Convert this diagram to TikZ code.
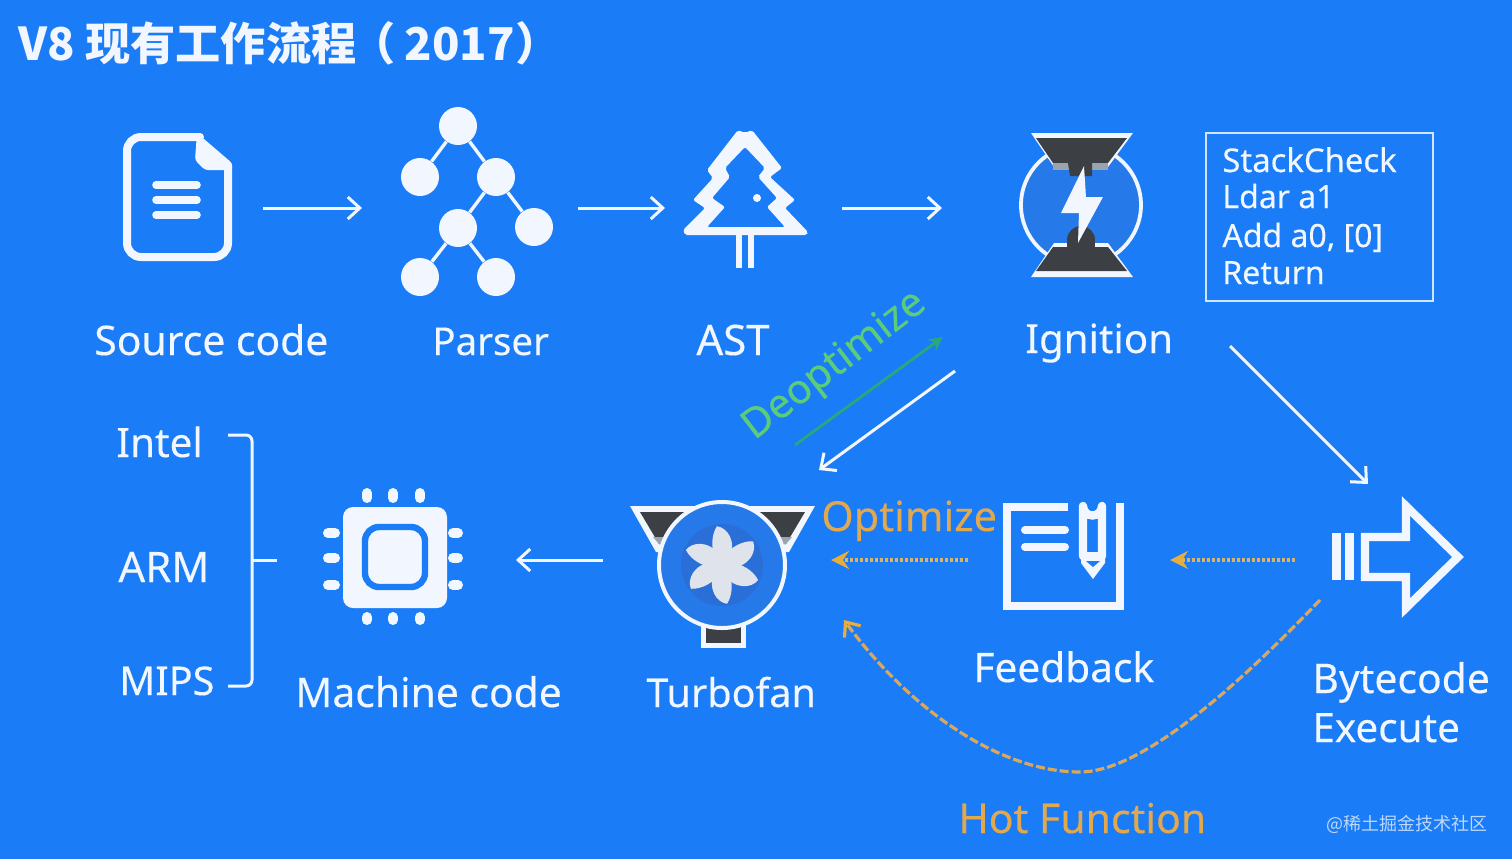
\documentclass[tikz,border=0pt]{standalone}
\usepackage{fontspec}
\setmainfont{Noto Sans}
\newfontfamily\cjk{Noto Sans CJK SC}
\newfontfamily\labfont[FakeBold=0.25]{Noto Sans}
\usetikzlibrary{arrows.meta}
\definecolor{bgblue}{HTML}{1A7CF6}
\definecolor{soft}{HTML}{F2F7FF}
\definecolor{darkhg}{HTML}{3C3F44}
\definecolor{greyhg}{HTML}{9AA4AE}
\definecolor{discblue}{HTML}{2A6FD8}
\definecolor{ringblue}{HTML}{2579E8}
\definecolor{orangelab}{HTML}{E2A84E}
\definecolor{goldarrow}{HTML}{D9B468}
\definecolor{goldhead}{HTML}{E5AE3E}
\definecolor{hotdash}{HTML}{D9A860}
\definecolor{greenlab}{HTML}{5CCB7C}
\definecolor{greenarrow}{HTML}{2BA77E}
\tikzset{
  labs/.style={anchor=base west,inner sep=0pt,text=soft,font=\labfont\fontsize{#1}{24}\selectfont},
  code/.style={anchor=base west,inner sep=0pt,text=soft,font=\labfont\fontsize{16}{19}\selectfont},
  flow/.style={draw=soft,line width=1.5pt,-{Straight Barb[length=6pt,width=11pt,line width=1.5pt]}},
  gold/.style={draw=goldarrow,line width=1.6pt,dash pattern=on 1.5pt off 1pt,-{Stealth[length=9pt,width=9pt,inset=3pt,color=goldhead]}},
  hot/.style={draw=hotdash,line width=1.6pt,dash pattern=on 4.5pt off 1.5pt,-{Straight Barb[length=6pt,width=10pt,line width=1.6pt,color=goldhead]}},
  icon/.style={draw=soft,line join=round,line cap=round},
  tn/.style={circle,fill=soft,minimum size=19pt,inner sep=0pt},
  te/.style={draw=soft,line width=1.7pt},
  pin/.style={soft,line width=5pt,line cap=round},
}
\begin{document}
\begin{tikzpicture}[x=0.5pt,y=-0.5pt]
\useasboundingbox (0,0) rectangle (1512,859);
\fill[bgblue] (0,0) rectangle (1512,859);

% title
\node[anchor=base west,inner sep=0pt,text=soft,font=\cjk\bfseries\fontsize{22.6}{26}\selectfont] (title) at (18,60) {V8 现有工作流程\kern-3pt（\kern4.5pt 2017\kern0.5pt）};

% source code icon
\draw[icon,line width=4pt,rounded corners=7pt] (200,137) -- (127,137) -- (127,257) -- (228,257) -- (228,165);
\fill[soft,rounded corners=1.5pt] (197,133) -- (232,163) -- (232,170) -- (205,170) -- (195,160) -- cycle;
\draw[icon,line width=3.8pt] (156,185) -- (197,185) (156,200) -- (197,200) (156,215) -- (197,215);

% parser tree
\node[tn] (t1) at (458,126) {};
\node[tn] (t2) at (420,177) {};
\node[tn] (t3) at (496,177) {};
\node[tn] (t4) at (458,228) {};
\node[tn] (t5) at (534,227) {};
\node[tn] (t6) at (420,277) {};
\node[tn] (t7) at (496,277) {};
\draw[te] (t1)--(t2) (t1)--(t3) (t3)--(t4) (t3)--(t5) (t4)--(t6) (t4)--(t7);

% AST tree
\fill[soft,even odd rule,rounded corners=1pt]
  (738,130) -- (745,133) -- (752,130) -- (782,168) -- (770,177) -- (795,200) -- (785,208) -- (808,232) -- (807,235)
  -- (685,235) -- (683,230) -- (705,208) -- (693,200) -- (713,178) -- (707,170) -- cycle
  (745,147) -- (765,168) -- (758,177) -- (777,198) -- (767,207) -- (785,227) -- (707,227) -- (725,207) -- (712,198) -- (730,177) -- (725,168) -- cycle;
\draw[icon,line width=3.2pt,line cap=butt] (739,235) -- (739,268) (751,235) -- (751,268);
\fill[soft] (757,198) circle (4);

% ignition
\draw[soft,fill=ringblue,line width=1.9pt] (1081,205) circle (60);
\fill[soft] (1031,133) -- (1133,133) -- (1108,167) -- (1054,167) -- cycle;
\fill[darkhg] (1036,138) -- (1127,138) -- (1108,163) -- (1053,163) -- cycle;
\fill[greyhg] (1053,163) rectangle (1108,170);
\fill[darkhg] (1068,163) -- (1092,163) -- (1092,176) -- (1070,176) -- cycle;
\fill[soft] (1031,277) -- (1133,277) -- (1108,243) -- (1054,243) -- cycle;
\fill[darkhg] (1036,271) -- (1127,271) -- (1108,247) -- (1053,247) -- cycle;
\fill[darkhg] (1081,240) circle (14);
\fill[darkhg] (1067,240) rectangle (1095,248);
\fill[soft] (1084,166) -- (1061,213) -- (1079,213) -- (1078,243) -- (1103,197) -- (1086,197) -- cycle;

% bytecode box
\draw[draw=soft!85!bgblue,line width=1pt] (1206,133) rectangle (1433,301);
\node[code,font=\labfont\fontsize{16.4}{19}\selectfont] (c1) at (1222,172) {StackCheck};
\node[code] (c2) at (1222,208) {Ldar a1};
\node[code] (c3) at (1222,247) {Add a0, [0]};
\node[code] (c4) at (1222,284) {Return};

% labels
\node[labs=20.4] (source) at (94,355) {Source code};
\node[labs=19.2] (parser) at (432,355) {Parser};
\node[labs=21] (ast) at (696,355) {AST};
\node[labs=20.1] (ignition) at (1025,353) {Ignition};
\node[labs=20.2] (intel) at (116,457) {Intel};
\node[labs=21] (arm) at (118,582) {ARM};
\node[labs=19.8] (mips) at (119,695) {MIPS};
\node[labs=20.4] (machine) at (295,707) {Machine code};
\node[labs=19.8] (turbo) at (646,707) {Turbofan};
\node[labs=20.3] (feedback) at (973,682) {Feedback};
\node[labs=20.4] (byte1) at (1312,693) {Bytecode};
\node[labs=20.2] (byte2) at (1312,742) {Execute};
\node[labs=20.7,text=orangelab] (optimize) at (821,531) {Optimize};
\node[labs=20.5,text=orangelab] (hotfn) at (958,833) {Hot Function};
\node[labs=20.4,anchor=center,text=greenlab,rotate=37.5] (deopt) at (835,366) {Deoptimize};
\node[anchor=base east,inner sep=0pt,text=soft!75!bgblue,font=\cjk\fontsize{9}{11}\selectfont] (mark) at (1488,830) {@稀土掘金技术社区};

% bracket
\draw[draw=soft,line width=1.5pt,rounded corners=3pt] (228,435) -- (252,435) -- (252,686) -- (228,686);
\coordinate (brmid) at (252,560);
\coordinate (brtip) at (277,560);
\draw[draw=soft,line width=1.5pt] (brmid) -- (brtip);

% chip
\foreach \x in {367,393,420}{
  \draw[pin] (\x,493) -- (\x,498);
  \draw[pin] (\x,617) -- (\x,620);
}
\foreach \y in {533,558,585}{
  \draw[pin] (328,\y) -- (335,\y);
  \draw[pin] (453,\y) -- (458,\y);
}
\fill[soft,rounded corners=5pt] (343,507) rectangle (447,608);
\draw[bgblue,line width=3.2pt,rounded corners=7pt] (365,527) rectangle (425,587);

% feedback icon
\draw[icon,line width=4.4pt,line cap=butt,line join=miter] (1068,507) -- (1007,507) -- (1007,606) -- (1120,606) -- (1120,503);
\draw[icon,line width=4pt] (1025,530) -- (1065,530) (1025,547) -- (1065,547);
\fill[soft] (1081,552) -- (1105,552) -- (1105,563) -- (1093,579) -- (1081,563) -- cycle;
\draw[icon,line width=4.2pt] (1083,556) -- (1083,506) arc[start angle=180,end angle=360,x radius=9.5,y radius=-9.5] -- (1102,556);
\fill[bgblue] (1086,561) -- (1100,561) -- (1093,567) -- cycle;

% bytecode execute icon
\fill[soft] (1332,533) rectangle (1341,580);
\fill[soft] (1345,533) rectangle (1354,580);
\draw[icon,line width=4.1pt,line join=miter,line cap=butt] (1365,537) -- (1406,537) -- (1406,506) -- (1458,557) -- (1406,608) -- (1406,577) -- (1365,577) -- cycle;

% turbofan
\fill[soft] (630,506) -- (815,506) -- (789,552) -- (656,552) -- cycle;
\fill[darkhg] (640,512) -- (805,512) -- (786,544) -- (659,544) -- cycle;
\fill[greyhg] (653,537) -- (792,537) -- (786,544) -- (659,544) -- cycle;
\fill[soft] (701,620) rectangle (746,648);
\fill[darkhg] (706,620) rectangle (741,643);
\draw[soft,fill=ringblue,line width=2pt] (722,565) circle (63);
\fill[discblue] (722,565) circle (41);
\foreach \a in {0,60,...,300}{
  \begin{scope}[shift={(722,565)},rotate=\a+3]
    \fill[soft!92!black] (-5,-6) .. controls (-11,-16) and (-9,-31) .. (-3,-39) .. controls (7,-37) and (16,-24) .. (8,-6) -- cycle;
  \end{scope}
}
\fill[soft!92!black] (722,565) circle (11);

% connector ends
\coordinate (a1s) at (263,208); \coordinate (a1e) at (362,208);
\coordinate (a2s) at (578,208); \coordinate (a2e) at (665,208);
\coordinate (a3s) at (842,208); \coordinate (a3e) at (942,208);
\coordinate (a4s) at (1230,346); \coordinate (a4e) at (1368,484);
\coordinate (a5s) at (955,371); \coordinate (a5e) at (819,470);
\coordinate (a6s) at (603,560); \coordinate (a6e) at (516,560);
\coordinate (g1s) at (795,445); \coordinate (g1e) at (943,337);
\coordinate (o1s) at (968,560); \coordinate (o1e) at (831,560);
\coordinate (o2s) at (1295,560); \coordinate (o2e) at (1170,560);
\coordinate (h1s) at (1320,600); \coordinate (h1e) at (844,620);

\draw[flow] (a1s) -- (a1e);
\draw[flow] (a2s) -- (a2e);
\draw[flow] (a3s) -- (a3e);
\draw[flow] (a4s) -- (a4e);
\draw[flow] (a5s) -- (a5e);
\draw[flow] (a6s) -- (a6e);
\draw[draw=greenarrow,line width=1.4pt,-{Stealth[length=7pt,width=7pt]}] (g1s) -- (g1e);
\draw[gold] (o1s) -- (o1e);
\draw[gold] (o2s) -- (o2e);
\draw[hot] (h1s) .. controls (1210,715) and (1130,772) .. (1080,772) .. controls (1000,772) and (910,710) .. (h1e);
\end{tikzpicture}
\end{document}
